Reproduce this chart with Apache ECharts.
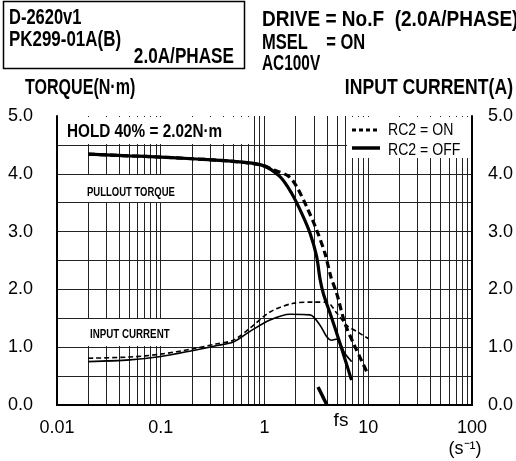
<!DOCTYPE html>
<html><head><meta charset="utf-8">
<script src="https://cdn.jsdelivr.net/npm/echarts@6/dist/echarts.min.js"></script>
<style>html,body{margin:0;padding:0;background:#fff}#c{width:516px;height:461px}</style>
</head><body><div id="c"></div>
<script>
// ---- data ----
const xTickLabels = ['0.01', '0.1', '1', '10', '100'];
const yTickLabels = ['0.0', '1.0', '2.0', '3.0', '4.0', '5.0'];
const torqueOffX = [0.02, 0.05, 0.1, 0.2, 0.47, 0.94, 1.41, 1.83, 2.28, 2.75, 3.18, 3.43, 3.69, 4.28, 5.34, 6.9];
const torqueOffY = [4.34, 4.31, 4.29, 4.26, 4.22, 4.15, 3.95, 3.66, 3.32, 2.97, 2.57, 2.18, 1.93, 1.59, 1.07, 0.43];
const torqueOnX = [0.02, 0.05, 0.1, 0.2, 0.47, 0.94, 1.22, 1.70, 2.04, 2.55, 3.18, 3.83, 4.36, 4.97, 5.97, 7.45, 9.66];
const torqueOnY = [4.34, 4.31, 4.29, 4.26, 4.22, 4.15, 4.07, 3.96, 3.78, 3.43, 3.03, 2.62, 2.22, 1.93, 1.41, 1.01, 0.58];
const currentOffX = [0.02, 0.05, 0.1, 0.2, 0.35, 0.5, 0.72, 1.13, 1.76, 2.75, 3.43, 3.98, 4.44, 4.97, 5.97, 6.92];
const currentOffY = [0.75, 0.78, 0.84, 0.94, 1.03, 1.09, 1.27, 1.47, 1.57, 1.56, 1.38, 1.18, 1.12, 1.14, 0.89, 0.75];
const currentOnX = [0.02, 0.05, 0.1, 0.2, 0.35, 0.5, 0.725, 1.13, 1.9, 2.97, 3.98, 4.97, 6.2, 7.78, 10];
const currentOnY = [0.81, 0.83, 0.88, 0.97, 1.06, 1.12, 1.33, 1.61, 1.76, 1.78, 1.78, 1.59, 1.38, 1.27, 1.15];
const fsX = [3.28, 4.0];
const fsY = [0.31, 0.0];

function pairs(xs, ys) { return xs.map((x, i) => [x, ys[i]]); }

// grid lines (decoration)
const vLines = [];
[0.01, 0.1, 1, 10].forEach(d => { for (let k = 2; k <= 10; k++) vLines.push(+(d * k).toPrecision(3)); });
const hLines = [0.5, 1, 1.5, 2, 2.5, 3, 3.5, 4, 4.5];

const F = "'Liberation Sans', Arial, sans-serif";
function txt(s, x, y, size, bold, sx, align) {
  return { type: 'text', x: x, y: y, z: 20, scaleX: sx || 1,
    style: { text: s, fontSize: size, fontWeight: bold ? 'bold' : 'normal', fontFamily: F,
      fill: '#000', textAlign: align || 'left', textVerticalAlign: 'middle' } };
}
function wrect(x, y, w, h) {
  return { type: 'rect', z: 3, shape: { x: x, y: y, width: w, height: h }, style: { fill: '#fff' } };
}

const chart = echarts.init(document.getElementById('c'), null, { renderer: 'canvas' });
chart.setOption({
  animation: false,
  backgroundColor: '#fff',
  grid: { left: 57, right: 44, top: 116, bottom: 56 },
  xAxis: [{
    type: 'log', logBase: 10, min: 0.01, max: 100, z: 10,
    axisLine: { lineStyle: { color: '#000', width: 2 } },
    axisTick: { show: false }, splitLine: { show: false }, minorTick: { show: false },
    axisLabel: { color: '#000', fontSize: 18, fontFamily: F, margin: 14,
      formatter: v => xTickLabels[Math.round(Math.log10(v)) + 2] }
  }, {
    type: 'log', logBase: 10, min: 0.01, max: 100, position: 'top', z: 10,
    axisLine: { lineStyle: { color: '#000', width: 2 } },
    axisTick: { show: false }, splitLine: { show: false }, axisLabel: { show: false }
  }],
  yAxis: [{
    type: 'value', min: 0, max: 5, interval: 1, z: 10,
    axisLine: { show: true, lineStyle: { color: '#000', width: 2 } },
    axisTick: { show: false }, splitLine: { show: false },
    axisLabel: { color: '#000', fontSize: 18, fontFamily: F, margin: 24, formatter: v => yTickLabels[Math.round(v)] }
  }, {
    type: 'value', min: 0, max: 5, interval: 1, position: 'right', z: 10,
    axisLine: { show: true, lineStyle: { color: '#000', width: 2 } },
    axisTick: { show: false }, splitLine: { show: false },
    axisLabel: { color: '#000', fontSize: 18, fontFamily: F, margin: 16, formatter: v => yTickLabels[Math.round(v)] }
  }],
  series: [
    { type: 'line', z: 1, silent: true, data: [[0.01, 0]], symbol: 'none', lineStyle: { opacity: 0 },
      markLine: { z: 1, silent: true, symbol: 'none', label: { show: false }, animation: false,
        lineStyle: { color: '#222', width: 1, type: 'solid' },
        data: vLines.map(v => ({ xAxis: v })).concat(hLines.map(h => ({ yAxis: h }))) } },
    { name: 'torqueOff', type: 'line', z: 5, data: pairs(torqueOffX, torqueOffY), symbol: 'none', smooth: 0.3,
      lineStyle: { color: '#000', width: 3.2 } },
    { name: 'torqueOn', type: 'line', z: 5, data: pairs(torqueOnX, torqueOnY), symbol: 'none', smooth: 0.3,
      lineStyle: { color: '#000', width: 3.2, type: [7, 4] } },
    { name: 'currentOff', type: 'line', z: 5, data: pairs(currentOffX, currentOffY), symbol: 'none', smooth: 0.3,
      lineStyle: { color: '#000', width: 1.6 } },
    { name: 'currentOn', type: 'line', z: 5, data: pairs(currentOnX, currentOnY), symbol: 'none', smooth: 0.3,
      lineStyle: { color: '#000', width: 1.6, type: [5, 3] } },
    { name: 'fs', type: 'line', z: 5, data: pairs(fsX, fsY), symbol: 'none',
      lineStyle: { color: '#000', width: 3.5 } }
  ],
  graphic: [
    { type: 'rect', z: 20, shape: { x: 3.5, y: 1.5, width: 241, height: 67 }, style: { fill: 'none', stroke: '#000', lineWidth: 1.5 } },
    txt('D-2620v1', 9, 18, 22, true, 0.75),
    txt('PK299-01A(B)', 9, 40, 22, true, 0.77),
    txt('2.0A/PHASE', 234, 57, 22, true, 0.78, 'right'),
    txt('TORQUE(N·m)', 25, 88, 22, true, 0.73),
    txt('DRIVE = No.F  (2.0A/PHASE)', 262, 20, 22, true, 0.865),
    txt('MSEL    = ON', 262, 43, 22, true, 0.75),
    txt('AC100V', 262, 64, 22, true, 0.70),
    txt('INPUT CURRENT(A)', 513, 88, 22, true, 0.80, 'right'),
    wrect(58, 117, 193, 27),
    txt('HOLD 40% = 2.02N·m', 67, 132, 18, true, 0.85),
    wrect(58, 175, 131, 27),
    txt('PULLOUT TORQUE', 87, 192, 13, true, 0.73),
    wrect(58, 319, 131, 27),
    txt('INPUT CURRENT', 90, 334, 13, true, 0.75),
    wrect(347, 117, 124, 41),
    { type: 'line', z: 20, shape: { x1: 352, y1: 130, x2: 378, y2: 130 }, style: { stroke: '#000', lineWidth: 3, lineDash: [4, 3] } },
    { type: 'line', z: 20, shape: { x1: 352, y1: 148, x2: 380, y2: 148 }, style: { stroke: '#000', lineWidth: 3.5 } },
    txt('RC2 = ON', 388, 131, 16, false, 0.88),
    txt('RC2 = OFF', 388, 151, 16, false, 0.88),
    txt('fs', 341, 421, 19, false, 1, 'center'),
    txt('(s⁻¹)', 465, 449, 18, false, 1, 'center')
  ]
});
</script></body></html>
